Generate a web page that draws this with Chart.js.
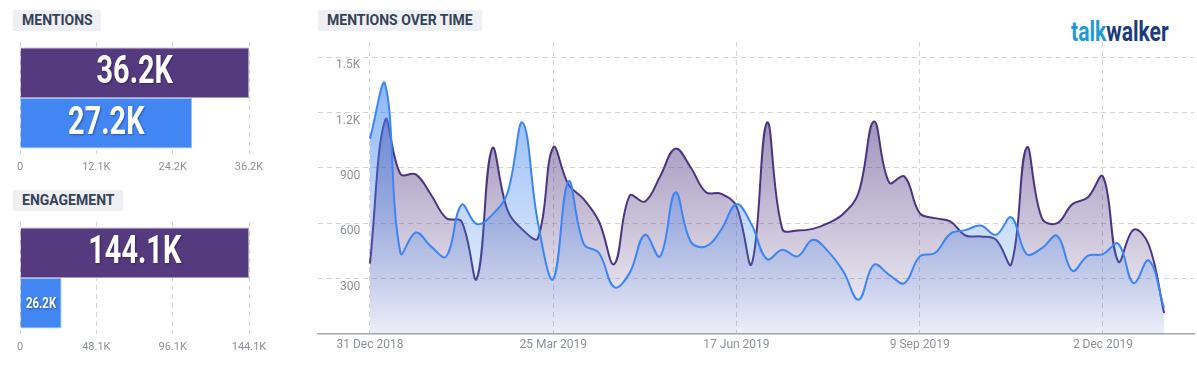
<!DOCTYPE html>
<html>
<head>
<meta charset="utf-8">
<script src="https://cdn.jsdelivr.net/npm/chart.js@4.4.1/dist/chart.umd.min.js"></script>
<style>
  body { margin: 0; width: 1197px; height: 375px; background: #fff; font-family: Roboto, sans-serif; position: relative; overflow: hidden; }
  .hdr { position: absolute; height: 21px; line-height: 21px; background: #eef0f3; color: #354258; font-weight: bold; font-size: 14px; padding-left: 9px; box-sizing: border-box; }
  .box { position: absolute; }
  .logo { position: absolute; left: 1071px; top: 18px; line-height: 28px; font-family: Roboto, sans-serif; font-weight: bold; font-size: 27px; transform: scaleX(0.78); transform-origin: 0 0; white-space: nowrap; }
</style>
</head>
<body>
<div class="hdr" style="left:13px;top:10px;width:88px">MENTIONS</div>
<div class="hdr" style="left:13px;top:190px;width:110px">ENGAGEMENT</div>
<div class="hdr" style="left:318px;top:10px;width:164px">MENTIONS OVER TIME</div>
<div class="logo"><span style="color:#1e9ad8">talk</span><span style="color:#1c3b7b">walker</span></div>

<div class="box" style="left:0;top:36px;width:270px;height:140px"><canvas id="mentionsChart"></canvas></div>
<div class="box" style="left:0;top:216px;width:270px;height:140px"><canvas id="engagementChart"></canvas></div>
<div class="box" style="left:310px;top:30px;width:887px;height:330px"><canvas id="timeChart"></canvas></div>

<script>
const SERIES = ['Brand A', 'Brand B'];

const MENTIONS_TOTAL = [36200, 27200];
const MENTIONS_TICKS = ['0', '12.1K', '24.2K', '36.2K'];
const ENGAGEMENT_TOTAL = [144100, 26200];
const ENGAGEMENT_TICKS = ['0', '48.1K', '96.1K', '144.1K'];

// weekly buckets
const WEEKS = [
    '31 Dec 2018', '7 Jan 2019', '14 Jan 2019', '21 Jan 2019', '28 Jan 2019', '4 Feb 2019', '11 Feb 2019',
    '18 Feb 2019', '25 Feb 2019', '4 Mar 2019', '11 Mar 2019', '18 Mar 2019', '25 Mar 2019', '1 Apr 2019',
    '8 Apr 2019', '15 Apr 2019', '22 Apr 2019', '29 Apr 2019', '6 May 2019', '13 May 2019', '20 May 2019',
    '27 May 2019', '3 Jun 2019', '10 Jun 2019', '17 Jun 2019', '24 Jun 2019', '1 Jul 2019', '8 Jul 2019',
    '15 Jul 2019', '22 Jul 2019', '29 Jul 2019', '5 Aug 2019', '12 Aug 2019', '19 Aug 2019', '26 Aug 2019',
    '2 Sep 2019', '9 Sep 2019', '16 Sep 2019', '23 Sep 2019', '30 Sep 2019', '7 Oct 2019', '14 Oct 2019',
    '21 Oct 2019', '28 Oct 2019', '4 Nov 2019', '11 Nov 2019', '18 Nov 2019', '25 Nov 2019', '2 Dec 2019',
    '9 Dec 2019', '16 Dec 2019', '23 Dec 2019', '30 Dec 2019'
];
const DATE_TICKS = [0, 12, 24, 36, 48];
const COUNT_TICKS = [300, 600, 900, 1200, 1500];

const MENTIONS_A = [
    381, 1160, 867, 865, 755, 628, 610, 300, 1005, 673, 565, 520, 1011, 810,
    731, 610, 379, 749, 718, 854, 1005, 904, 769, 760, 691, 381, 1146, 570,
    561, 570, 601, 652, 767, 1152, 821, 854, 655, 628, 610, 534, 529, 511,
    379, 1011, 628, 601, 704, 740, 854, 393, 565, 484, 114
];
const MENTIONS_B = [
    1058, 1354, 439, 550, 475, 420, 700, 596, 646, 763, 1146, 605, 298, 827,
    489, 439, 254, 330, 538, 420, 767, 502, 475, 565, 704, 592, 406, 457,
    421, 511, 448, 339, 186, 375, 321, 276, 421, 439, 543, 563, 588, 538,
    632, 433, 466, 532, 343, 424, 433, 489, 276, 399, 141
];

const PURPLE = '#553a80';
const BLUE = '#4286f4';
const TICK_COLOR = '#8b9097';
const GRID_COLOR = '#d3d3d3';
const SQUEEZE = 0.76;   // condensed look for the big totals

Chart.defaults.font.family = 'Roboto, sans-serif';
Chart.defaults.animation = false;

const fmtK = v => (v / 1000).toFixed(1) + 'K';

// white totals written inside the bars
const barValues = {
    id: 'barValues',
    afterDatasetsDraw(chart) {
        const ctx = chart.ctx;
        chart.data.datasets.forEach((ds, i) => {
            chart.getDatasetMeta(i).data.forEach((bar, j) => {
                const text = fmtK(ds.data[j]);
                const room = Math.abs(bar.x - bar.base) - 10;
                let size = 38;
                ctx.font = `bold ${size}px Roboto`;
                const w = ctx.measureText(text).width * SQUEEZE;
                if (w > room) size = Math.floor(size * room / w);
                ctx.save();
                ctx.translate((bar.x + bar.base) / 2, bar.y + 1);
                ctx.scale(SQUEEZE, 1);
                ctx.font = `bold ${size}px Roboto`;
                ctx.fillStyle = '#fff';
                ctx.textAlign = 'center';
                ctx.textBaseline = 'middle';
                ctx.shadowColor = 'rgba(0,0,0,0.35)';
                ctx.shadowBlur = 2;
                ctx.shadowOffsetX = 1;
                ctx.shadowOffsetY = 1;
                ctx.fillText(text, 0, 0);
                ctx.restore();
            });
        });
    }
};

function totalsChart(id, totals, tickLabels) {
    new Chart(document.getElementById(id), {
        type: 'bar',
        data: {
            labels: [''],
            datasets: SERIES.map((name, i) => ({
                label: name,
                data: [totals[i]],
                backgroundColor: [PURPLE, BLUE][i],
                borderColor: ['#a597c6', '#9cc0f8'][i],
                borderWidth: 1,
                categoryPercentage: 0.9,
                barPercentage: 1
            }))
        },
        options: {
            indexAxis: 'y',
            responsive: true,
            maintainAspectRatio: false,
            layout: { padding: { left: 20, right: 21, top: 6, bottom: 6 } },
            plugins: { legend: { display: false }, tooltip: { enabled: false } },
            scales: {
                x: {
                    min: 0,
                    max: Math.max(...totals),
                    afterBuildTicks: s => {
                        s.ticks = tickLabels.map((t, i) => ({ value: s.max * i / (tickLabels.length - 1) }));
                    },
                    afterFit: s => { s.height = 16; s.paddingLeft = 0; s.paddingRight = 0; },
                    ticks: {
                        padding: 7,
                        color: TICK_COLOR,
                        font: { size: 11 },
                        maxRotation: 0,
                        autoSkip: false,
                        callback: (v, i) => tickLabels[i]
                    },
                    grid: { drawTicks: false, color: GRID_COLOR },
                    border: { display: false, dash: [5, 4] }
                },
                y: { display: false }
            }
        },
        plugins: [barValues]
    });
}

totalsChart('mentionsChart', MENTIONS_TOTAL, MENTIONS_TICKS);
totalsChart('engagementChart', ENGAGEMENT_TOTAL, ENGAGEMENT_TICKS);

function fade(rgb, top, bottom) {
    return ctx => {
        const area = ctx.chart.chartArea;
        if (!area) return `rgba(${rgb},${top})`;
        const g = ctx.chart.ctx.createLinearGradient(0, area.top, 0, area.bottom);
        g.addColorStop(0, `rgba(${rgb},${top})`);
        g.addColorStop(1, `rgba(${rgb},${bottom})`);
        return g;
    };
}

new Chart(document.getElementById('timeChart'), {
    type: 'line',
    data: {
        datasets: [{
            label: SERIES[0],
            data: MENTIONS_A.map((y, x) => ({ x, y })),
            borderColor: '#4b3482',
            backgroundColor: fade('78,52,128', 0.7, 0.05),
            fill: 'origin',
            order: 2
        }, {
            label: SERIES[1],
            data: MENTIONS_B.map((y, x) => ({ x, y })),
            borderColor: '#3d85f2',
            backgroundColor: fade('61,132,240', 0.67, 0.05),
            fill: 'origin',
            order: 1
        }]
    },
    options: {
        responsive: true,
        maintainAspectRatio: false,
        layout: { padding: { left: 8, right: 3, top: 12, bottom: 10 } },
        elements: {
            point: { radius: 0 },
            line: { tension: 0.4, borderWidth: 2 }
        },
        plugins: { legend: { display: false }, tooltip: { enabled: false } },
        scales: {
            x: {
                type: 'linear',
                min: -3.4,
                max: 53.96,
                afterBuildTicks: s => { s.ticks = DATE_TICKS.map(v => ({ value: v })); },
                afterFit: s => { s.height = 16; s.paddingLeft = 0; s.paddingRight = 0; },
                ticks: {
                    padding: 4,
                    color: TICK_COLOR,
                    font: { size: 12 },
                    maxRotation: 0,
                    autoSkip: false,
                    callback: v => WEEKS[v]
                },
                grid: { drawTicks: false, color: GRID_COLOR },
                border: { color: '#a4a8ac', width: 1.5, dash: [5, 4] }
            },
            y: {
                min: 0,
                max: 1583,
                afterBuildTicks: s => { s.ticks = COUNT_TICKS.map(v => ({ value: v })); },
                // labels sit inside the plot, so the axis takes no room
                afterFit: s => { s.width = 0; s.paddingTop = 0; s.paddingBottom = 0; },
                ticks: {
                    mirror: true,
                    crossAlign: 'far',
                    padding: 18,
                    labelOffset: 8,
                    color: TICK_COLOR,
                    font: { size: 12 },
                    callback: v => v >= 1000 ? (v / 1000) + 'K' : v
                },
                grid: { drawTicks: false, color: GRID_COLOR },
                border: { display: false, dash: [5, 4] }
            }
        }
    }
});
</script>
</body>
</html>
